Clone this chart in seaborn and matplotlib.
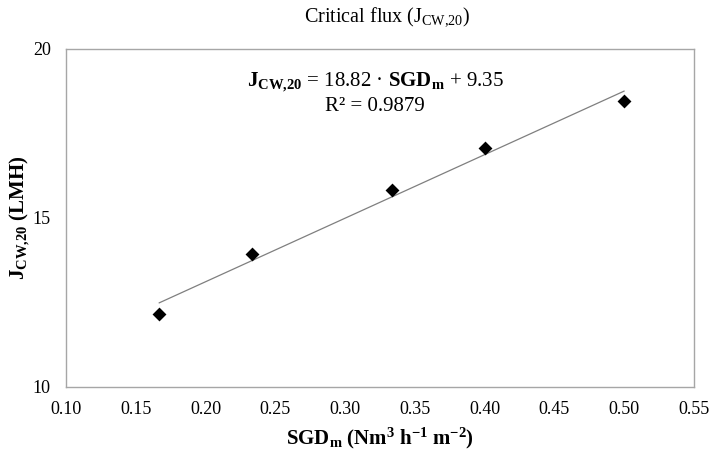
import matplotlib
matplotlib.use("Agg")
import matplotlib.pyplot as plt
import seaborn as sns
import pandas as pd

sgd = [0.1667, 0.2333, 0.3333, 0.4000, 0.5000]
jcw = [12.17, 13.93, 15.83, 17.08, 18.47]
xticks = [0.10, 0.15, 0.20, 0.25, 0.30, 0.35, 0.40, 0.45, 0.50, 0.55]
yticks = [10, 15, 20]

sns.set_theme(style="white")
plt.rcParams['font.family'] = ['Liberation Serif', 'DejaVu Serif']
plt.rcParams['mathtext.fontset'] = 'custom'
plt.rcParams['mathtext.rm'] = 'Liberation Serif'
plt.rcParams['mathtext.it'] = 'Liberation Serif:italic'
plt.rcParams['mathtext.bf'] = 'Liberation Serif:bold'
plt.rcParams['text.color'] = 'black'
plt.rcParams['axes.labelcolor'] = 'black'
plt.rcParams['xtick.labelcolor'] = 'black'
plt.rcParams['ytick.labelcolor'] = 'black'

df = pd.DataFrame({"SGD": sgd, "J": jcw})

fig = plt.figure(figsize=(7.12, 4.54), dpi=100)
ax = fig.add_axes([66/712, 1-387/454, (694-66)/712, (387-49)/454])

sns.regplot(data=df, x="SGD", y="J", ax=ax, scatter=False, ci=None, truncate=True,
            line_kws=dict(color="#7f7f7f", lw=0.9))
sns.scatterplot(data=df, x="SGD", y="J", ax=ax, marker="D", s=50, color="black",
                edgecolor="black", linewidth=0, zorder=5)

ax.set_xlim(0.10, 0.55)
ax.set_ylim(10, 20)
ax.set_xticks(xticks)
ax.set_xticklabels([f"{t:.2f}" for t in xticks])
ax.set_yticks(yticks)
ax.set_yticklabels([str(t) for t in yticks])
ax.tick_params(axis='both', which='both', direction='out', length=4, width=0.8,
               color="#a6a6a6", labelsize=13, labelcolor="black", pad=7)
ax.tick_params(axis='x', pad=6)
for s in ax.spines.values():
    s.set_visible(True)
    s.set_color("#a6a6a6")
    s.set_linewidth(1.0)
ax.grid(False)

ax.set_xlabel(r"$\mathbf{SGD_m\ (Nm^3\ h^{-1}\ m^{-2})}$", fontsize=15, labelpad=6, color="black")
ax.set_ylabel(r"$\mathbf{J_{CW{,}20}}$ (LMH)", fontsize=15, fontweight="bold", labelpad=0.5, color="black")
fig.text(387/712, 1-17/454, r"Critical flux (J$_{\mathrm{CW{,}20}}$)", ha="center", va="center",
         fontsize=14.5, color="black")

ax.text(0.492, 0.90, r"$\mathbf{J_{CW{,}20}}$ = 18.82 · $\mathbf{SGD_m}$ + 9.35", transform=ax.transAxes,
        ha="center", va="center", fontsize=15, color="black")
ax.text(0.492, 0.83, r"R² = 0.9879", transform=ax.transAxes,
        ha="center", va="center", fontsize=15, color="black")

fig.savefig("out.png", dpi=100)
